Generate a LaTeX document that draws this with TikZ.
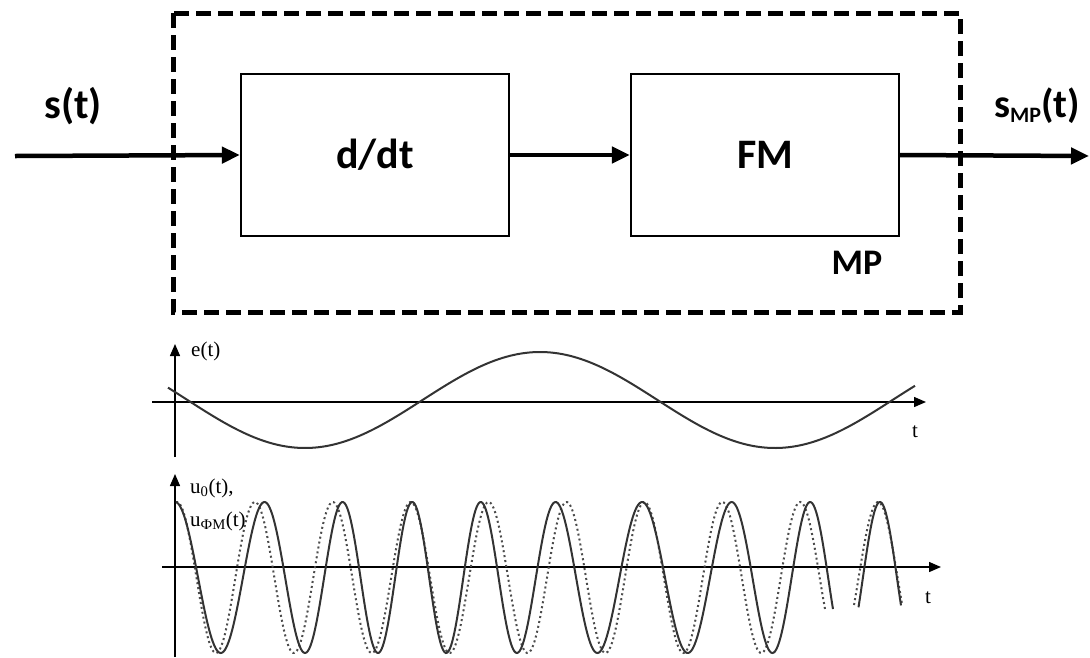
\documentclass[tikz,border=0pt]{standalone}
\usepackage{fontspec}
\setmainfont{Liberation Serif}
\newfontfamily\calib{Carlito}
\usetikzlibrary{arrows.meta}
\begin{document}
\begin{tikzpicture}[x=1pt,y=-1pt,every node/.style={inner sep=0pt},
  blk/.style={draw,line width=2.2pt,minimum width=268pt,minimum height=162pt,
    font=\calib\bfseries\fontsize{42}{48}\selectfont},
  sig/.style={line width=4.5pt,-{Triangle[length=18pt,width=16pt]}},
  ax/.style={line width=1.4pt,-{Triangle[length=12pt,width=10pt]}},
  wave/.style={line width=2pt,black!80},
  dotwave/.style={line width=2pt,black!70,dash pattern=on 2pt off 3pt},
  plbl/.style={font=\fontsize{21}{33}\selectfont,anchor=west,align=left}]
\useasboundingbox (0,0) rectangle (1090,657);
% top: block diagram
\begin{scope}
\draw[line width=5pt,dash pattern=on 15pt off 7pt] (173,13) rectangle (960,312);
\node[blk] (ddt) at (375,155) {d/dt};
\node[blk] (fm) at (765,155) {FM};
\coordinate (in) at (15,156);
\coordinate (out) at (1089,156);
\draw[sig] (in) -- (ddt.west);
\draw[sig] (ddt.east) -- (fm.west);
\draw[sig] (fm.east) -- (out);
\node[font=\calib\bfseries\fontsize{42}{48}\selectfont] (sin) at (73,106) {s(t)};
\node[font=\calib\bfseries\fontsize{40}{48}\selectfont] (sout) at (1037,106)
  {s\raisebox{-5pt}{\fontsize{22}{24}\selectfont MP}(t)};
\node[font=\calib\bfseries\fontsize{36}{40}\selectfont] (mp) at (857,263) {MP};
\end{scope}
% middle: message e(t)
\begin{scope}
\coordinate (e0) at (175,457);
\coordinate (e1) at (175,344);
\coordinate (t0) at (152,402);
\coordinate (t1) at (926,402);
\draw[ax] (e0) -- (e1);
\draw[ax] (t0) -- (t1);
\draw[wave] plot[domain=168:915,samples=200,smooth] (\x,{400+48*cos((\x-305)/470*360)});
\node[plbl] (elbl) at (191,351) {e(t)};
\node[plbl] (tlbl1) at (912,432) {t};
\end{scope}
% bottom: carrier and modulated wave
\begin{scope}
\coordinate (u0) at (175,657);
\coordinate (u1) at (175,474);
\coordinate (s0) at (162,567);
\coordinate (s1) at (941,567);
\draw[ax] (u0) -- (u1);
\draw[ax] (s0) -- (s1);
\draw[dotwave] plot[domain=176:825,samples=500,smooth] (\x,{577.5-75.5*cos((\x-177)/77.9*360)});
\draw[dotwave] plot[domain=854:902,samples=60,smooth] (\x,{577.5-75.5*cos((\x-177)/77.9*360)});
\draw[wave] plot[domain=176:833,samples=500,smooth]
  (\x,{577.5-75.5*cos((\x-177)/77.9*360-51.6*cos((\x-305)/470*360))});
\draw[wave] plot[domain=858.5:901,samples=60,smooth]
  (\x,{577.5-75.5*cos((\x-177)/77.9*360-51.6*cos((\x-305)/470*360))});
\node[plbl] (ulbl) at (190,505) {u\textsubscript{0}(t),\\u\textsubscript{ФМ}(t)};
\node[plbl] (tlbl2) at (925,598) {t};
\end{scope}
\end{tikzpicture}
\end{document}
